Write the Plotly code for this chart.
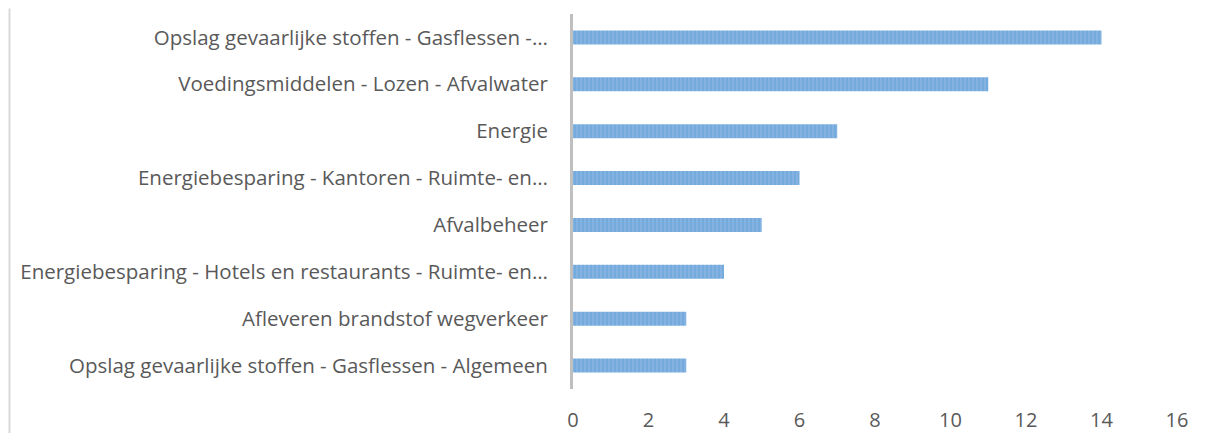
import plotly.graph_objects as go

categories = [
    "Opslag gevaarlijke stoffen - Gasflessen -…",
    "Voedingsmiddelen - Lozen - Afvalwater",
    "Energie",
    "Energiebesparing - Kantoren - Ruimte- en…",
    "Afvalbeheer",
    "Energiebesparing - Hotels en restaurants - Ruimte- en…",
    "Afleveren brandstof wegverkeer",
    "Opslag gevaarlijke stoffen - Gasflessen - Algemeen",
]
values = [14, 11, 7, 6, 5, 4, 3, 3]
x_ticks = [0, 2, 4, 6, 8, 10, 12, 14, 16]

# page has an 8px body margin, so the figure is 16px smaller than the window
W, H = 1192, 425
L, R, T, B = 565, 23, 5.6, 44.4
PW, PH = W - L - R, H - T - B

fig = go.Figure(go.Bar(
    x=values, y=categories, orientation="h", width=0.3,
    marker=dict(
        color="#5B9BD5",
        line=dict(width=0),
        pattern=dict(shape="|", fgcolor="#5B9BD5", bgcolor="#8FB9E3", size=4, solidity=0.7),
    ),
))

font_y = dict(family="Open Sans, sans-serif", size=20.5, color="#595959")
font_x = dict(family="Open Sans, sans-serif", size=20, color="#595959")
fig.update_layout(
    width=W, height=H,
    margin=dict(l=L, r=R, t=T, b=B, autoexpand=False),
    paper_bgcolor="white", plot_bgcolor="white",
    showlegend=False,
    font=font_x,
    xaxis=dict(range=[0, 16], tickvals=x_ticks, showgrid=False, zeroline=False,
               showline=False, ticks="outside", ticklen=13, tickcolor="rgba(0,0,0,0)",
               tickfont=font_x, fixedrange=True, automargin=False),
    yaxis=dict(categoryorder="array", categoryarray=categories, autorange="reversed",
               showgrid=False, zeroline=False, showline=True, linecolor="#BFBFBF", linewidth=3,
               ticks="outside", ticklen=18, tickcolor="rgba(0,0,0,0)", tickfont=font_y,
               automargin=False),
    shapes=[dict(type="line", xref="paper", yref="paper",
                 x0=(1.5 - L) / PW, x1=(1.5 - L) / PW,
                 y0=-B / PH, y1=1 + T / PH,
                 line=dict(color="#D9D9D9", width=2))],
)

fig.write_html("out.html")
